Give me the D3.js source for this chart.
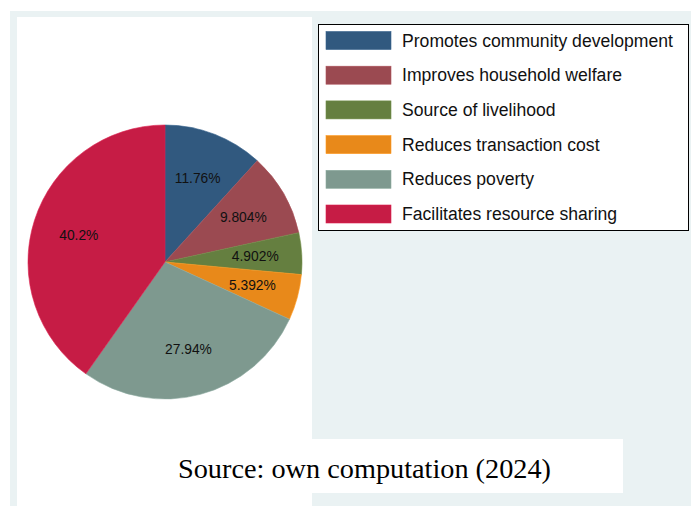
<!DOCTYPE html>
<html>
<head>
<meta charset="utf-8">
<script src="https://cdn.jsdelivr.net/npm/d3@7"></script>
<style>
  body { margin: 0; background: #ffffff; }
</style>
</head>
<body>
<div id="chart"></div>
<script>
// shares as printed on the slices (percent)
const categories = [
    "Promotes community development",
    "Improves household welfare",
    "Source of livelihood",
    "Reduces transaction cost",
    "Reduces poverty",
    "Facilitates resource sharing"
];
const shares = [11.76, 9.804, 4.902, 5.392, 27.94, 40.2];
const colors = ["#31597f", "#9b4a51", "#657f40", "#e8891a", "#7e998f", "#c61c45"];
const sourceNote = "Source: own computation (2024)";

function main() {
    let width = 691;
    let height = 506;

    let svg = d3.select("#chart").append("svg")
        .attr("width", width)
        .attr("height", height);

    // outer graph region (stata style bluish gray)
    svg.append("rect")
        .attr("x", 10).attr("y", 11)
        .attr("width", width - 10).attr("height", height - 11)
        .attr("fill", "#eaf2f3");

    // plot region
    svg.append("rect")
        .attr("x", 17).attr("y", 17)
        .attr("width", 295).attr("height", height - 17)
        .attr("fill", "#ffffff");

    let data = categories.map(function(c, i) {
        return {name: c, value: shares[i], color: colors[i]};
    });

    let pie = d3.pie().sort(null).value(d => d.value);
    let radius = 137;
    let arc = d3.arc().innerRadius(0).outerRadius(radius);
    let labelArc = d3.arc().innerRadius(radius * 0.66).outerRadius(radius * 0.66);

    let pie_g = svg.append("g")
        .attr("transform", "translate(165, 262)");

    let arcs = pie(data);

    pie_g.selectAll("path")
        .data(arcs)
        .enter()
        .append("path")
        .attr("d", arc)
        .attr("fill", d => d.data.color)
        .attr("stroke", d => d3.color(d.data.color).brighter(0.3))
        .attr("stroke-width", 0.6);

    let fmt = d3.format(".4~g");
    pie_g.selectAll("text")
        .data(arcs)
        .enter()
        .append("text")
        .attr("transform", d => "translate(" + labelArc.centroid(d) + ")")
        .attr("text-anchor", "middle")
        .attr("dy", "0.36em")
        .attr("font-family", "Liberation Sans, Arial, sans-serif")
        .attr("font-size", "13.8px")
        .attr("fill", "#111")
        .text(d => fmt(d.data.value) + "%");

    // legend
    let legend_g = svg.append("g");
    legend_g.append("rect")
        .attr("x", 318.5).attr("y", 24.5)
        .attr("width", 370).attr("height", 206)
        .attr("fill", "#ffffff")
        .attr("stroke", "#000")
        .attr("stroke-width", 1);

    let rowY = d3.scaleLinear().domain([0, categories.length - 1]).range([40.5, 214]);

    let rows = legend_g.selectAll("g.row")
        .data(data)
        .enter()
        .append("g")
        .attr("class", "row")
        .attr("transform", (d, i) => "translate(0," + rowY(i) + ")");

    rows.append("rect")
        .attr("x", 326).attr("y", -9)
        .attr("width", 65).attr("height", 18)
        .attr("fill", d => d.color)
        .attr("stroke", d => d3.color(d.color).brighter(0.3))
        .attr("stroke-width", 0.6);

    rows.append("text")
        .attr("x", 402)
        .attr("dy", "0.35em")
        .attr("font-family", "Liberation Sans, Arial, sans-serif")
        .attr("font-size", "17.6px")
        .attr("fill", "#111")
        .text(d => d.name);

    // source note box
    svg.append("rect")
        .attr("x", 17).attr("y", 439)
        .attr("width", 606).attr("height", 54)
        .attr("fill", "#ffffff");

    svg.append("text")
        .attr("x", 178)
        .attr("y", 478)
        .attr("font-family", "Liberation Serif, Times New Roman, serif")
        .attr("font-size", "28px")
        .attr("textLength", 373)
        .attr("lengthAdjust", "spacingAndGlyphs")
        .attr("fill", "#000")
        .text(sourceNote);
}

main();
</script>
</body>
</html>
